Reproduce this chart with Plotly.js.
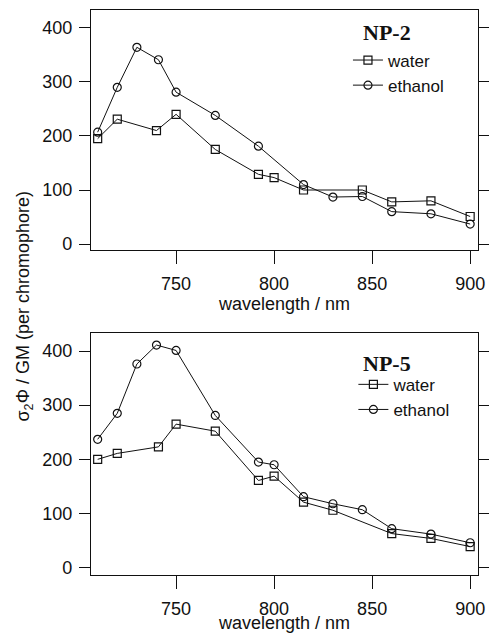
<!DOCTYPE html>
<html>
<head>
<meta charset="utf-8">
<script src="https://cdn.plot.ly/plotly-3.0.1.min.js"></script>
<style>html,body{margin:0;padding:0;background:#fff;}#chart{width:489px;height:633px;}</style>
</head>
<body>
<div id="chart"></div>
<script>
// NP-2 (top panel)
const np2WaterX = [710, 720, 740, 750, 770, 792, 800, 815, 845, 860, 880, 900];
const np2WaterY = [195, 231, 210, 240, 175, 129, 123, 100, 100, 78, 80, 51];
const np2EthanolX = [710, 720, 730, 741, 750, 770, 792, 815, 830, 845, 860, 880, 900];
const np2EthanolY = [207, 290, 364, 341, 281, 238, 181, 110, 87, 88, 60, 56, 37];
// NP-5 (bottom panel)
const np5WaterX = [710, 720, 741, 750, 770, 792, 800, 815, 830, 860, 880, 900];
const np5WaterY = [200, 211, 223, 265, 252, 161, 169, 121, 106, 63, 54, 39];
const np5EthanolX = [710, 720, 730, 740, 750, 770, 792, 800, 815, 830, 845, 860, 880, 900];
const np5EthanolY = [237, 285, 376, 411, 401, 281, 195, 190, 131, 118, 107, 72, 62, 46];

const xTicks = [750, 800, 850, 900];
const yTicks = [0, 100, 200, 300, 400];
const seriesNames = ['water', 'ethanol'];
const panelLabels = ['NP-2', 'NP-5'];
const xTitle = 'wavelength / nm';
const yTitle = 'σ<sub>2</sub>Φ / GM (per chromophore)';

const SANS = 'Liberation Sans, Arial, sans-serif';
const SERIF = 'Liberation Serif, Times New Roman, serif';
const INK = '#111';
const FS = 18;

function tr(x, y, name, sym, xa, ya, leg) {
  return {
    x: x, y: y, name: name, type: 'scatter', mode: 'lines+markers',
    xaxis: xa, yaxis: ya, legend: leg,
    line: {color: INK, width: 1},
    marker: {symbol: sym, size: 8, color: INK, line: {width: 1.2, color: INK}}
  };
}

const data = [
  tr(np2WaterX, np2WaterY, seriesNames[0], 'square-open', 'x', 'y', 'legend'),
  tr(np2EthanolX, np2EthanolY, seriesNames[1], 'circle-open', 'x', 'y', 'legend'),
  tr(np5WaterX, np5WaterY, seriesNames[0], 'square-open', 'x2', 'y2', 'legend2'),
  tr(np5EthanolX, np5EthanolY, seriesNames[1], 'circle-open', 'x2', 'y2', 'legend2')
];

function xaxis(anchor) {
  return {
    anchor: anchor, domain: [0, 1], range: [706.6, 904],
    tickvals: xTicks, ticks: 'outside', ticklen: 13, tickwidth: 1, tickcolor: INK,
    ticklabelstandoff: 4,
    showline: true, linecolor: INK, linewidth: 1.2, mirror: true,
    showgrid: false, zeroline: false,
    tickfont: {family: SANS, size: FS, color: INK},
    title: {text: xTitle, font: {family: SANS, size: FS, color: INK}, standoff: 3}
  };
}
function yaxis(anchor, domain, range) {
  return {
    anchor: anchor, domain: domain, range: range,
    tickvals: yTicks, ticks: 'outside', ticklen: 11, tickwidth: 1, tickcolor: INK,
    ticklabelstandoff: 3,
    showline: true, linecolor: INK, linewidth: 1.2, mirror: 'ticks',
    showgrid: false, zeroline: false,
    tickfont: {family: SANS, size: FS, color: INK}
  };
}
function legend(x, y) {
  return {
    x: x, y: y, xanchor: 'left', yanchor: 'top',
    bgcolor: 'rgba(0,0,0,0)', borderwidth: 0,
    font: {family: SANS, size: 17, color: INK},
    tracegroupgap: 0, itemwidth: 30
  };
}
function panelLabel(text, y) {
  return {
    text: '<b>' + text + '</b>', xref: 'paper', yref: 'paper', x: 0.698, y: y,
    xanchor: 'left', yanchor: 'middle', showarrow: false,
    font: {family: SERIF, size: 22, color: INK}
  };
}

const layout = {
  width: 489, height: 633,
  margin: {l: 91, r: 11, t: 10, b: 58},
  paper_bgcolor: '#fff', plot_bgcolor: '#fff',
  showlegend: true,
  xaxis: xaxis('y'),
  yaxis: yaxis('x', [0.5752, 1], [-11, 433]),
  xaxis2: xaxis('y2'),
  yaxis2: yaxis('x2', [0, 0.4278], [-13.5, 432.7]),
  legend: legend(0.664, 0.9425),
  legend2: legend(0.678, 0.3685),
  annotations: [
    panelLabel(panelLabels[0], 0.961),
    panelLabel(panelLabels[1], 0.3735),
    {
      text: yTitle, xref: 'paper', yref: 'paper', x: -0.172, y: 0.476,
      xanchor: 'center', yanchor: 'middle', textangle: -90, showarrow: false,
      font: {family: SANS, size: FS, color: INK}
    }
  ]
};

Plotly.newPlot('chart', data, layout, {displayModeBar: false, staticPlot: true});
</script>
</body>
</html>
